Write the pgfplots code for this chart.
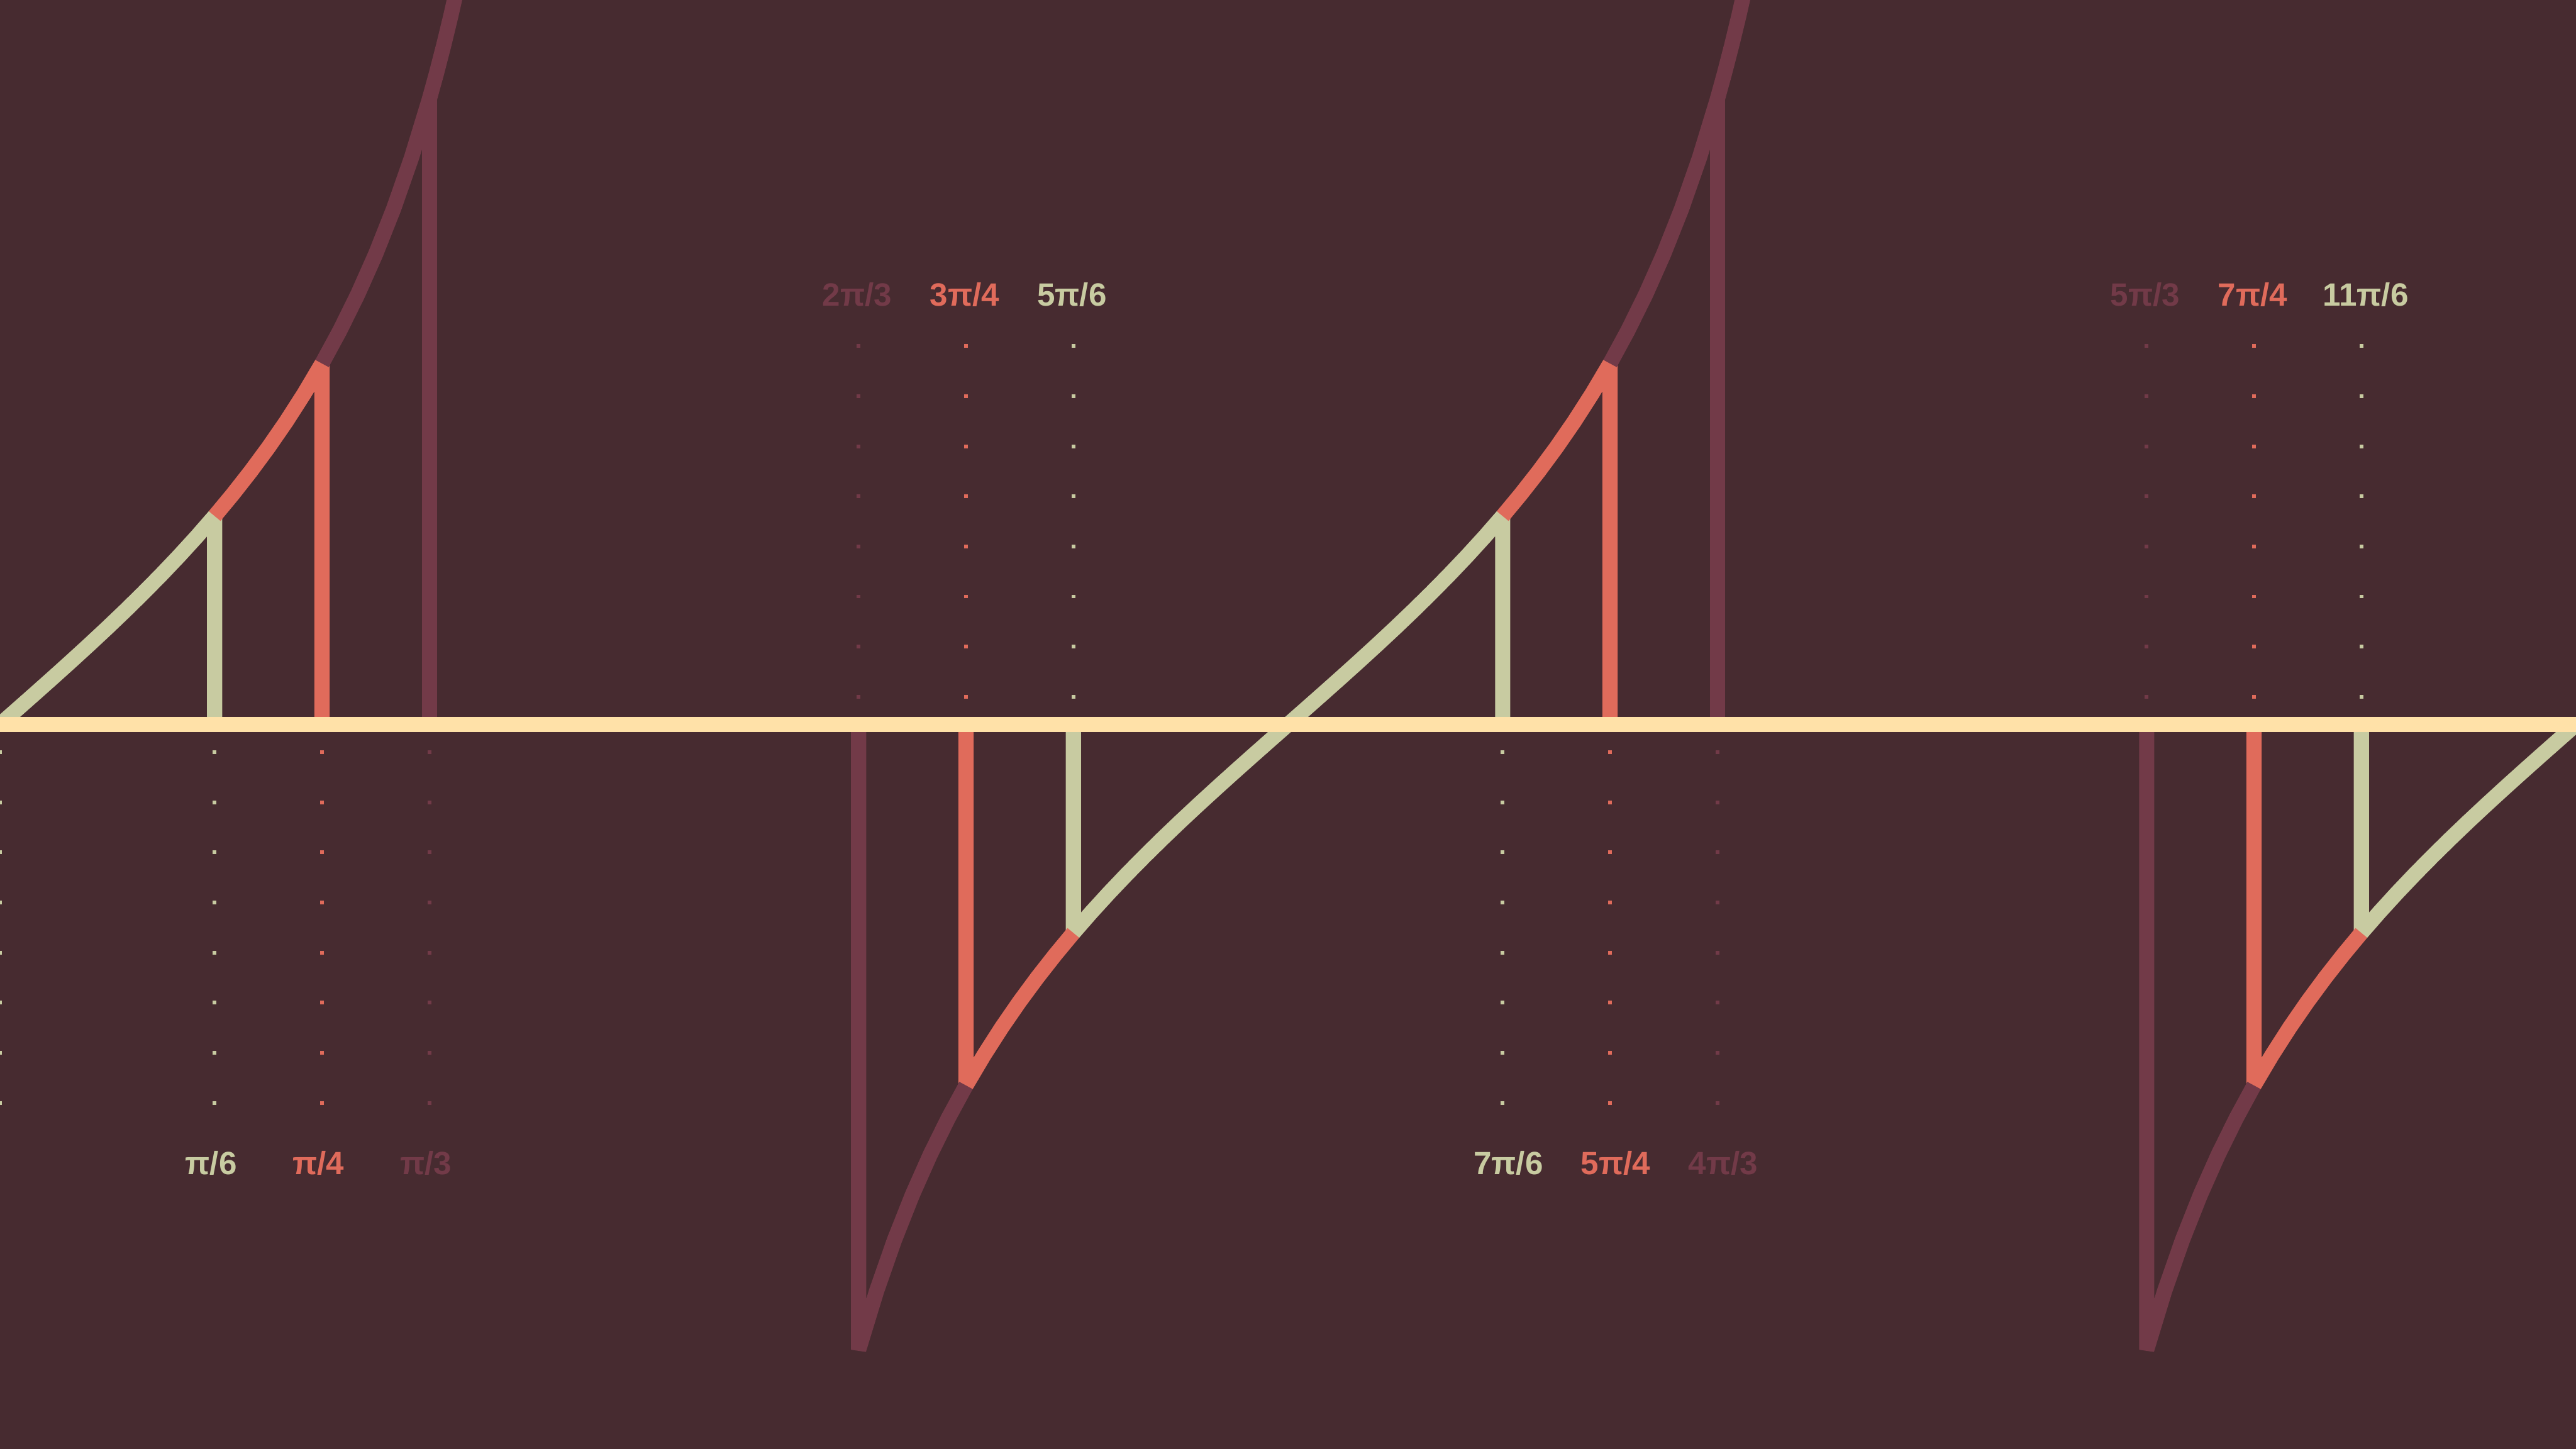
\documentclass[border=0pt]{standalone}
\usepackage{pgfplots}
\pgfplotsset{compat=1.18}
\usepackage{fontspec}
\setmainfont{Liberation Sans}
\definecolor{bg}{HTML}{472B30}
\definecolor{sage}{HTML}{C8CBA1}
\definecolor{coral}{HTML}{E06B5B}
\definecolor{maroon}{HTML}{723A48}
\definecolor{cream}{HTML}{FFE1A8}
\tikzset{
  seg/.style={line width=3.4pt, no marks, line join=bevel},
  dots/.style={line width=0.84pt, no marks, dash pattern=on 0.84pt off 10.36pt},
  lab/.style={font=\bfseries\fontsize{7.2}{8}\selectfont, anchor=base, inner sep=0pt},
}
\begin{document}
\begin{tikzpicture}
\fill[bg] (0,0) rectangle (576pt,324pt);
\begin{axis}[at={(0,0)}, anchor=south west, width=576pt, height=324pt,
  scale only axis, hide axis, xmin=0, xmax=360, ymin=-2.007, ymax=2.007, clip=true]
% dotted guides below axis
\addplot[dots, sage] coordinates {(0,-0.0718) (0,-1.0532)};
\addplot[dots, sage] coordinates {(30,-0.0718) (30,-1.0532)};
\addplot[dots, coral] coordinates {(45,-0.0718) (45,-1.0532)};
\addplot[dots, maroon] coordinates {(60,-0.0718) (60,-1.0532)};
\addplot[dots, sage] coordinates {(210,-0.0718) (210,-1.0532)};
\addplot[dots, coral] coordinates {(225,-0.0718) (225,-1.0532)};
\addplot[dots, maroon] coordinates {(240,-0.0718) (240,-1.0532)};
% dotted guides above axis
\addplot[dots, maroon] coordinates {(120,0.0718) (120,1.0532)};
\addplot[dots, coral] coordinates {(135,0.0718) (135,1.0532)};
\addplot[dots, sage] coordinates {(150,0.0718) (150,1.0532)};
\addplot[dots, maroon] coordinates {(300,0.0718) (300,1.0532)};
\addplot[dots, coral] coordinates {(315,0.0718) (315,1.0532)};
\addplot[dots, sage] coordinates {(330,0.0718) (330,1.0532)};
% sage
\addplot[seg, sage] coordinates {(0,0) (2.5,0.043661) (5,0.087489) (7.5,0.131652) (10,0.176327) (12.5,0.221695) (15,0.267949) (17.5,0.315299) (20,0.363970) (22.5,0.414214) (25,0.466308) (27.5,0.520567) (30,0.577350) (30,0)};
\addplot[seg, sage] coordinates {(150,0) (150,-0.577350) (152.5,-0.520567) (155,-0.466308) (157.5,-0.414214) (160,-0.363970) (162.5,-0.315299) (165,-0.267949) (167.5,-0.221695) (170,-0.176327) (172.5,-0.131652) (175,-0.087489) (177.5,-0.043661) (180,0) (182.5,0.043661) (185,0.087489) (187.5,0.131652) (190,0.176327) (192.5,0.221695) (195,0.267949) (197.5,0.315299) (200,0.363970) (202.5,0.414214) (205,0.466308) (207.5,0.520567) (210,0.577350) (210,0)};
\addplot[seg, sage] coordinates {(330,0) (330,-0.577350) (332.5,-0.520567) (335,-0.466308) (337.5,-0.414214) (340,-0.363970) (342.5,-0.315299) (345,-0.267949) (347.5,-0.221695) (350,-0.176327) (352.5,-0.131652) (355,-0.087489) (357.5,-0.043661) (360,0)};
% coral
\addplot[seg, coral] coordinates {(30,0.577350) (32.5,0.637070) (35,0.700208) (37.5,0.767327) (40,0.839100) (42.5,0.916331) (45,1) (45,0)};
\addplot[seg, coral] coordinates {(135,0) (135,-1) (137.5,-0.916331) (140,-0.839100) (142.5,-0.767327) (145,-0.700208) (147.5,-0.637070) (150,-0.577350)};
\addplot[seg, coral] coordinates {(210,0.577350) (212.5,0.637070) (215,0.700208) (217.5,0.767327) (220,0.839100) (222.5,0.916331) (225,1) (225,0)};
\addplot[seg, coral] coordinates {(315,0) (315,-1) (317.5,-0.916331) (320,-0.839100) (322.5,-0.767327) (325,-0.700208) (327.5,-0.637070) (330,-0.577350)};
% maroon
\addplot[seg, maroon] coordinates {(60,0) (60,1.732051)};
\addplot[seg, maroon] coordinates {(45,1) (47.5,1.091309) (50,1.191754) (52.5,1.303225) (55,1.428148) (57.5,1.569686) (60,1.732051) (61,1.804048) (62,1.880726) (63,1.962611) (64,2.050304) (65,2.144507)};
\addplot[seg, maroon] coordinates {(120,0) (120,-1.732051) (122.5,-1.569686) (125,-1.428148) (127.5,-1.303225) (130,-1.191754) (132.5,-1.091309) (135,-1)};
\addplot[seg, maroon] coordinates {(240,0) (240,1.732051)};
\addplot[seg, maroon] coordinates {(225,1) (227.5,1.091309) (230,1.191754) (232.5,1.303225) (235,1.428148) (237.5,1.569686) (240,1.732051) (241,1.804048) (242,1.880726) (243,1.962611) (244,2.050304) (245,2.144507)};
\addplot[seg, maroon] coordinates {(300,0) (300,-1.732051) (302.5,-1.569686) (305,-1.428148) (307.5,-1.303225) (310,-1.191754) (312.5,-1.091309) (315,-1)};
% axis line
\addplot[seg, cream] coordinates {(0,0) (360,0)};
% labels
\node[lab, text=sage] at (axis cs:29.5,-1.247) {π/6};
\node[lab, text=coral] at (axis cs:44.5,-1.247) {π/4};
\node[lab, text=maroon] at (axis cs:59.5,-1.247) {π/3};
\node[lab, text=sage] at (axis cs:210.8,-1.247) {7π/6};
\node[lab, text=coral] at (axis cs:225.8,-1.247) {5π/4};
\node[lab, text=maroon] at (axis cs:240.8,-1.247) {4π/3};
\node[lab, text=maroon] at (axis cs:119.8,1.159) {2π/3};
\node[lab, text=coral] at (axis cs:134.8,1.159) {3π/4};
\node[lab, text=sage] at (axis cs:149.8,1.159) {5π/6};
\node[lab, text=maroon] at (axis cs:299.8,1.159) {5π/3};
\node[lab, text=coral] at (axis cs:314.8,1.159) {7π/4};
\node[lab, text=sage] at (axis cs:330.6,1.159) {11π/6};
\end{axis}
\end{tikzpicture}
\end{document}
